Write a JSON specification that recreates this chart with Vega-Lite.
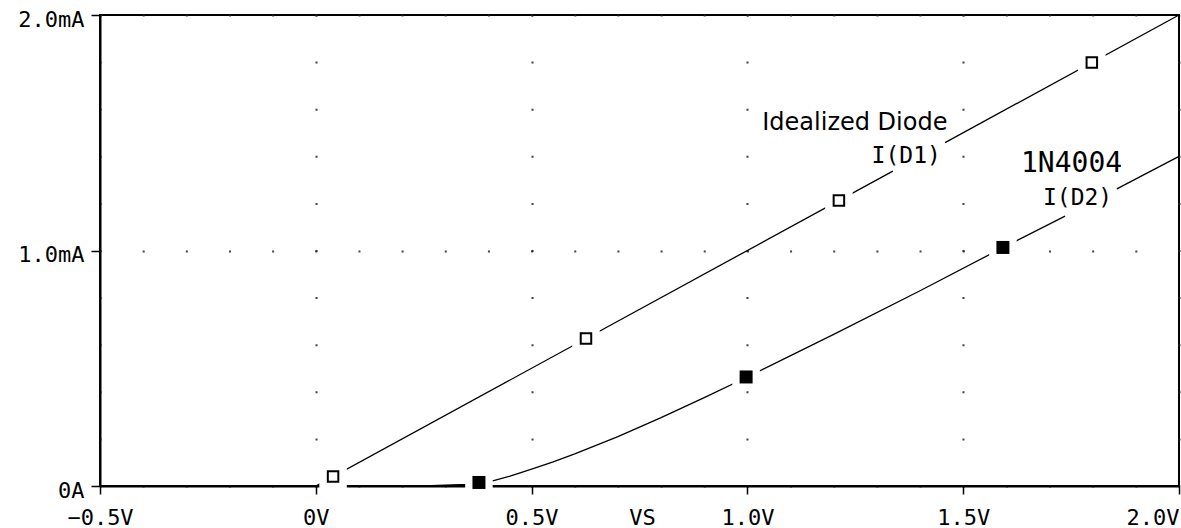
{
  "$schema": "https://vega.github.io/schema/vega-lite/v6.json",
  "autosize": {"type": "none"},
  "padding": {"left": 100, "top": 15, "right": 2, "bottom": 42},
  "width": 1079,
  "height": 471,
  "background": "white",
  "config": {
    "view": {"stroke": "black", "strokeWidth": 2},
    "axis": {
      "domainColor": "black",
      "domainWidth": 2,
      "tickColor": "black",
      "tickWidth": 1.5,
      "labelColor": "black",
      "labelFont": "DejaVu Sans Mono",
      "labelFontSize": 22,
      "labelFlush": false,
      "labelOverlap": false,
      "gridColor": "#222222",
      "gridWidth": 2,
      "gridOpacity": 0.85,
      "titleColor": "black",
      "titleFont": "DejaVu Sans Mono",
      "titleFontSize": 22,
      "titleFontWeight": "normal"
    }
  },
  "datasets": {
    "curves": [
      {"series": "D1", "seg": "a", "v": -0.5, "i": 0},
      {"series": "D1", "seg": "a", "v": 0.0, "i": 0},
      {"series": "D1", "seg": "a", "v": 1.337, "i": 1.337},
      {"series": "D1", "seg": "b", "v": 1.458, "i": 1.458},
      {"series": "D1", "seg": "b", "v": 2.0, "i": 2.0},
      {"series": "D2", "seg": "a", "v": -0.5, "i": 0},
      {"series": "D2", "seg": "a", "v": 0.25, "i": 0},
      {"series": "D2", "seg": "a", "v": 0.3, "i": 0.004},
      {"series": "D2", "seg": "a", "v": 0.35, "i": 0.007},
      {"series": "D2", "seg": "a", "v": 0.378, "i": 0.015},
      {"series": "D2", "seg": "a", "v": 0.41, "i": 0.022},
      {"series": "D2", "seg": "a", "v": 0.45, "i": 0.042},
      {"series": "D2", "seg": "a", "v": 0.5, "i": 0.072},
      {"series": "D2", "seg": "a", "v": 0.55, "i": 0.102},
      {"series": "D2", "seg": "a", "v": 0.6, "i": 0.136},
      {"series": "D2", "seg": "a", "v": 0.7, "i": 0.21},
      {"series": "D2", "seg": "a", "v": 0.8, "i": 0.29},
      {"series": "D2", "seg": "a", "v": 0.9, "i": 0.375},
      {"series": "D2", "seg": "a", "v": 1.0, "i": 0.463},
      {"series": "D2", "seg": "a", "v": 1.2, "i": 0.644},
      {"series": "D2", "seg": "a", "v": 1.4, "i": 0.829},
      {"series": "D2", "seg": "a", "v": 1.6, "i": 1.02},
      {"series": "D2", "seg": "a", "v": 1.736, "i": 1.146},
      {"series": "D2", "seg": "b", "v": 1.856, "i": 1.262},
      {"series": "D2", "seg": "b", "v": 2.0, "i": 1.4}
    ],
    "markers": [
      {"series": "D1", "v": 0.04, "i": 0.04},
      {"series": "D1", "v": 0.626, "i": 0.626},
      {"series": "D1", "v": 1.212, "i": 1.212},
      {"series": "D1", "v": 1.798, "i": 1.798},
      {"series": "D2", "v": 0.378, "i": 0.015},
      {"series": "D2", "v": 0.997, "i": 0.463},
      {"series": "D2", "v": 1.592, "i": 1.013}
    ],
    "labels": [
      {"text": "Idealized Diode", "style": "name", "v": 1.249, "i": 1.512},
      {"text": "I(D1)", "style": "probe", "v": 1.368, "i": 1.371},
      {"text": "1N4004", "style": "part", "v": 1.751, "i": 1.335},
      {"text": "I(D2)", "style": "probe", "v": 1.765, "i": 1.193}
    ]
  },
  "encoding": {
    "x": {
      "field": "v",
      "type": "quantitative",
      "scale": {"domain": [-0.5, 2.0], "nice": false, "zero": false},
      "axis": {
        "values": [-0.5, 0, 0.5, 1.0, 1.5, 2.0],
        "labelExpr": "datum.value == 0 ? '0V' : format(datum.value, '.1f') + 'V'",
        "labelAlign": {"condition": {"test": "datum.value == 2", "value": "right"}, "value": "center"},
        "labelBaseline": "top",
        "labelPadding": 13,
        "tickSize": 8,
        "grid": true,
        "gridDash": [2, 45.1],
        "gridDashOffset": 1,
        "title": "VS",
        "titleX": 542,
        "titleY": 38,
        "titleAlign": "center",
        "titleBaseline": "alphabetic",
        "titleAngle": 0
      }
    },
    "y": {
      "field": "i",
      "type": "quantitative",
      "scale": {"domain": [0, 2.0], "nice": false, "zero": true},
      "axis": {
        "values": [0, 1.0, 2.0],
        "labelExpr": "datum.value == 0 ? '0A' : format(datum.value, '.1f') + 'mA'",
        "labelBaseline": "middle",
        "labelOffset": 4,
        "labelPadding": 7,
        "tickSize": 9,
        "grid": true,
        "gridDash": [2, 41.16],
        "gridDashOffset": 1,
        "title": null
      }
    }
  },
  "layer": [
    {
      "data": {"name": "curves"},
      "mark": {"type": "line", "color": "black", "strokeWidth": 1.3, "interpolate": "linear"},
      "encoding": {"detail": [{"field": "series"}, {"field": "seg"}], "order": {"field": "v", "type": "quantitative"}}
    },
    {
      "data": {"name": "markers"},
      "mark": {"type": "square", "fill": "white", "fillOpacity": 1, "stroke": "white", "strokeWidth": 8, "strokeOpacity": 1, "size": 380, "opacity": 1},
      "encoding": {}
    },
    {
      "data": {"name": "markers"},
      "transform": [{"filter": "datum.series == 'D1'"}],
      "mark": {"type": "square", "fill": "white", "fillOpacity": 1, "stroke": "black", "strokeWidth": 2, "size": 110, "opacity": 1},
      "encoding": {}
    },
    {
      "data": {"name": "markers"},
      "transform": [{"filter": "datum.series == 'D2'"}],
      "mark": {"type": "square", "color": "black", "filled": true, "size": 169, "opacity": 1},
      "encoding": {}
    },
    {
      "data": {"name": "labels"},
      "transform": [{"filter": "datum.style == 'name'"}],
      "mark": {"type": "text", "font": "DejaVu Sans", "fontSize": 24, "color": "black", "align": "center", "baseline": "alphabetic"},
      "encoding": {"text": {"field": "text"}}
    },
    {
      "data": {"name": "labels"},
      "transform": [{"filter": "datum.style == 'probe'"}],
      "mark": {"type": "text", "font": "DejaVu Sans Mono", "fontSize": 23, "color": "black", "align": "center", "baseline": "alphabetic"},
      "encoding": {"text": {"field": "text"}}
    },
    {
      "data": {"name": "labels"},
      "transform": [{"filter": "datum.style == 'part'"}],
      "mark": {"type": "text", "font": "DejaVu Sans Mono", "fontSize": 28, "color": "black", "align": "center", "baseline": "alphabetic"},
      "encoding": {"text": {"field": "text"}}
    }
  ]
}
